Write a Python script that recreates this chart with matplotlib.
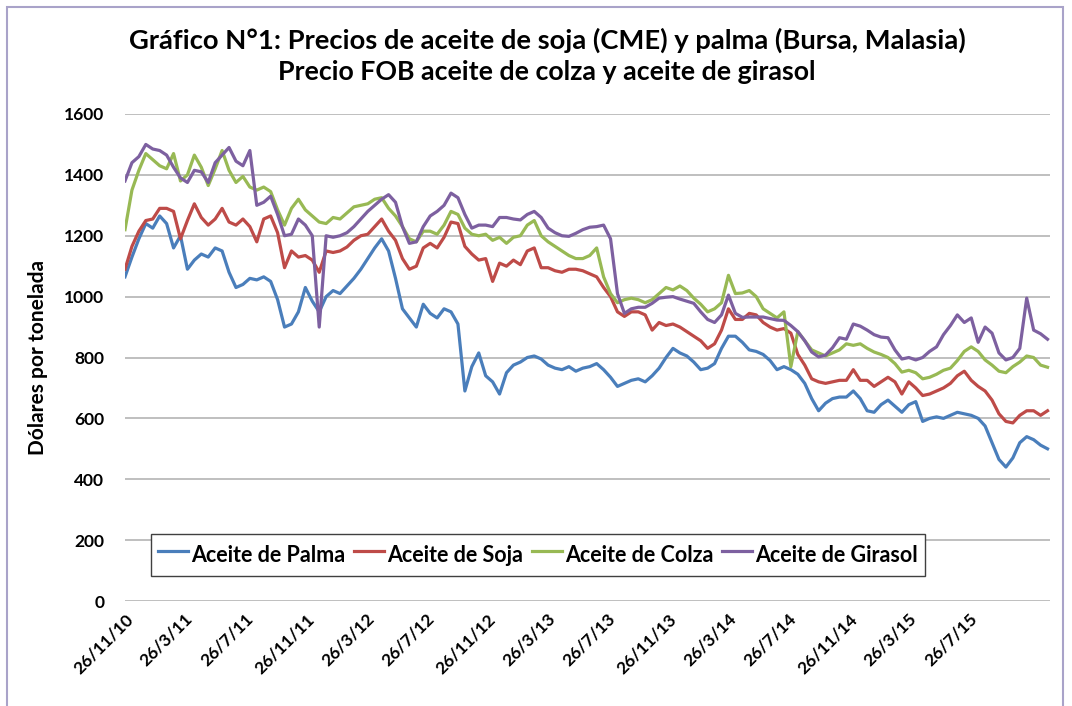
import matplotlib

matplotlib.use("Agg")

import matplotlib.pyplot as plt  # noqa: E402
import matplotlib.transforms as mtransforms  # noqa: E402
import pandas as pd  # noqa: E402
from matplotlib.patches import Rectangle  # noqa: E402

plt.rcParams["font.family"] = ["Lato", "DejaVu Sans"]
plt.rcParams["font.weight"] = "bold"

# fortnightly readings taken off the original chart, starting 26/11/2010
fechas = pd.date_range("2010-11-26", periods=134, freq="14D")

palma = [
    1065, 1130, 1190, 1240, 1225, 1265, 1240, 1160, 1200, 1090, 1120, 1140, 1130, 1160, 1150, 1080,
    1030, 1040, 1060, 1055, 1065, 1050, 990, 900, 910, 950, 1030, 985, 950, 1000, 1020, 1010,
    1035, 1060, 1090, 1125, 1160, 1190, 1150, 1060, 960, 930, 900, 975, 945, 930, 960, 950,
    910, 690, 770, 815, 740, 720, 680, 750, 775, 785, 800, 805, 795, 775, 765, 760,
    770, 755, 765, 770, 780, 760, 735, 705, 715, 725, 730, 720, 740, 765, 800, 830,
    815, 805, 785, 760, 765, 780, 830, 870, 870, 850, 825, 820, 810, 790, 760, 770,
    760, 745, 715, 665, 625, 650, 665, 670, 670, 690, 665, 625, 620, 645, 660, 640,
    620, 645, 655, 590, 600, 605, 600, 610, 620, 615, 610, 600, 575, 520, 465, 440,
    470, 520, 540, 530, 512, 500,
]
soja = [
    1090, 1165, 1215, 1250, 1255, 1290, 1290, 1280, 1190, 1250, 1305, 1260, 1235, 1255, 1290, 1245,
    1235, 1255, 1230, 1180, 1255, 1265, 1210, 1095, 1150, 1130, 1135, 1120, 1080, 1150, 1145, 1150,
    1163, 1185, 1200, 1205, 1230, 1255, 1215, 1185, 1125, 1090, 1100, 1160, 1175, 1160, 1195, 1245,
    1240, 1165, 1140, 1120, 1125, 1050, 1110, 1100, 1120, 1105, 1150, 1160, 1095, 1095, 1085, 1080,
    1090, 1090, 1085, 1075, 1065, 1030, 1000, 950, 935, 950, 950, 940, 890, 915, 905, 910,
    900, 885, 870, 855, 830, 845, 890, 960, 925, 925, 945, 940, 915, 900, 890, 895,
    880, 810, 775, 730, 720, 715, 720, 725, 725, 760, 725, 725, 705, 720, 735, 720,
    680, 720, 700, 675, 680, 690, 700, 715, 740, 755, 725, 705, 690, 660, 615, 590,
    585, 610, 625, 625, 610, 625,
]
colza = [
    1220, 1350, 1415, 1470, 1450, 1430, 1420, 1470, 1380, 1400, 1465, 1425, 1365, 1420, 1480, 1415,
    1375, 1395, 1360, 1350, 1360, 1345, 1285, 1235, 1290, 1320, 1285, 1265, 1245, 1240, 1260, 1255,
    1275, 1295, 1300, 1305, 1320, 1325, 1290, 1265, 1230, 1190, 1180, 1215, 1215, 1205, 1235, 1280,
    1270, 1225, 1205, 1200, 1205, 1185, 1195, 1175, 1195, 1200, 1235, 1250, 1200, 1180, 1165, 1150,
    1135, 1125, 1125, 1135, 1160, 1065, 1010, 980, 990, 995, 990, 980, 990, 1010, 1030, 1022,
    1035, 1020, 995, 975, 950, 960, 980, 1070, 1010, 1012, 1020, 1000, 960, 945, 930, 950,
    770, 885, 855, 825, 815, 805, 815, 825, 845, 840, 845, 830, 818, 810, 800, 780,
    752, 758, 750, 730, 735, 745, 758, 765, 790, 820, 835, 820, 792, 775, 755, 750,
    770, 785, 805, 800, 775, 768,
]
girasol = [
    1380, 1440, 1460, 1500, 1485, 1480, 1465, 1425, 1390, 1375, 1415, 1410, 1375, 1440, 1465, 1490,
    1445, 1430, 1480, 1300, 1310, 1330, 1270, 1200, 1205, 1255, 1235, 1200, 900, 1200, 1195, 1200,
    1210, 1230, 1255, 1280, 1300, 1320, 1335, 1310, 1230, 1175, 1180, 1230, 1265, 1280, 1300, 1340,
    1325, 1270, 1225, 1235, 1235, 1230, 1260, 1260, 1255, 1252, 1270, 1280, 1260, 1225, 1210, 1200,
    1198, 1208, 1220, 1228, 1230, 1235, 1190, 1010, 945, 960, 965, 965, 978, 995, 998, 1000,
    992, 985, 978, 950, 925, 915, 940, 1005, 945, 932, 933, 933, 933, 928, 923, 922,
    905, 885, 855, 818, 802, 808, 832, 865, 860, 910, 903, 890, 875, 867, 865, 825,
    795, 800, 792, 800, 820, 835, 875, 905, 940, 915, 930, 850, 900, 880, 815, 792,
    800, 830, 995, 890, 878, 860,
]

series = ["Aceite de Palma", "Aceite de Soja", "Aceite de Colza", "Aceite de Girasol"]
colores = ["#4A7EBB", "#BE4B48", "#98B954", "#7D60A0"]

etiquetas_x = [
    "26/11/10", "26/3/11", "26/7/11", "26/11/11", "26/3/12", "26/7/12", "26/11/12", "26/3/13",
    "26/7/13", "26/11/13", "26/3/14", "26/7/14", "26/11/14", "26/3/15", "26/7/15",
]
marcas_y = [0, 200, 400, 600, 800, 1000, 1200, 1400, 1600]

fig = plt.figure(figsize=(10.72, 7.06), dpi=100)
fig.patches.append(Rectangle((7 / 1072, -0.02), 1056 / 1072, 1 - 7 / 706 + 0.02,
                             transform=fig.transFigure, fill=False,
                             edgecolor="#A9A3C9", linewidth=1.5))
ax = fig.add_axes([125 / 1072, 1 - 601 / 706, 925 / 1072, 487 / 706])

for nombre, valores, color in zip(series, [palma, soja, colza, girasol], colores):
    ax.plot(fechas, valores, color=color, linewidth=2.3, label=nombre, solid_joinstyle="round")

ax.set_ylim(0, 1600)
ax.set_yticks(marcas_y)
ax.set_xlim(pd.Timestamp("2010-11-26"), pd.Timestamp("2016-01-06"))
ax.set_xticks(pd.to_datetime(etiquetas_x, format="%d/%m/%y"))
ax.set_xticklabels(etiquetas_x, rotation=45, ha="right", rotation_mode="anchor",
                   fontsize=12.5, fontweight="bold")
desplazar = mtransforms.ScaledTranslation(6 / 100, 0, fig.dpi_scale_trans)
for lab in ax.get_xticklabels():
    lab.set_transform(lab.get_transform() + desplazar)
for lab in ax.get_yticklabels():
    lab.set_fontsize(12.5)
    lab.set_fontweight("bold")
ax.tick_params(axis="both", length=0)
ax.tick_params(axis="y", pad=15)
ax.tick_params(axis="x", pad=7)
ax.grid(axis="y", color="#BFBFBF", linewidth=1.4)
ax.set_axisbelow(True)
for s in ax.spines.values():
    s.set_visible(False)

ax.set_ylabel("Dólares por tonelada", fontsize=15, fontweight="bold")
ax.yaxis.set_label_coords((48 - 125) / 925, 0.5)

fig.text(547 / 1072, 1 - 40 / 706,
         "Gráfico N°1: Precios de aceite de soja (CME) y palma (Bursa, Malasia)",
         ha="center", va="center", fontsize=19.7, fontweight="bold")
fig.text(547 / 1072, 1 - 72 / 706, "Precio FOB aceite de colza y aceite de girasol",
         ha="center", va="center", fontsize=19.3, fontweight="bold")

leg = ax.legend(loc="center", bbox_to_anchor=(0.4465, 0.0945), ncol=4, frameon=True,
                fancybox=False, edgecolor="#404040", framealpha=1, handlelength=1.4,
                handleheight=1.7, handletextpad=0.15, columnspacing=0.4, borderpad=0.3,
                borderaxespad=0, prop={"weight": "bold", "size": 15.5})
leg.get_frame().set_linewidth(1.0)

fig.savefig("out.png", dpi=100)
